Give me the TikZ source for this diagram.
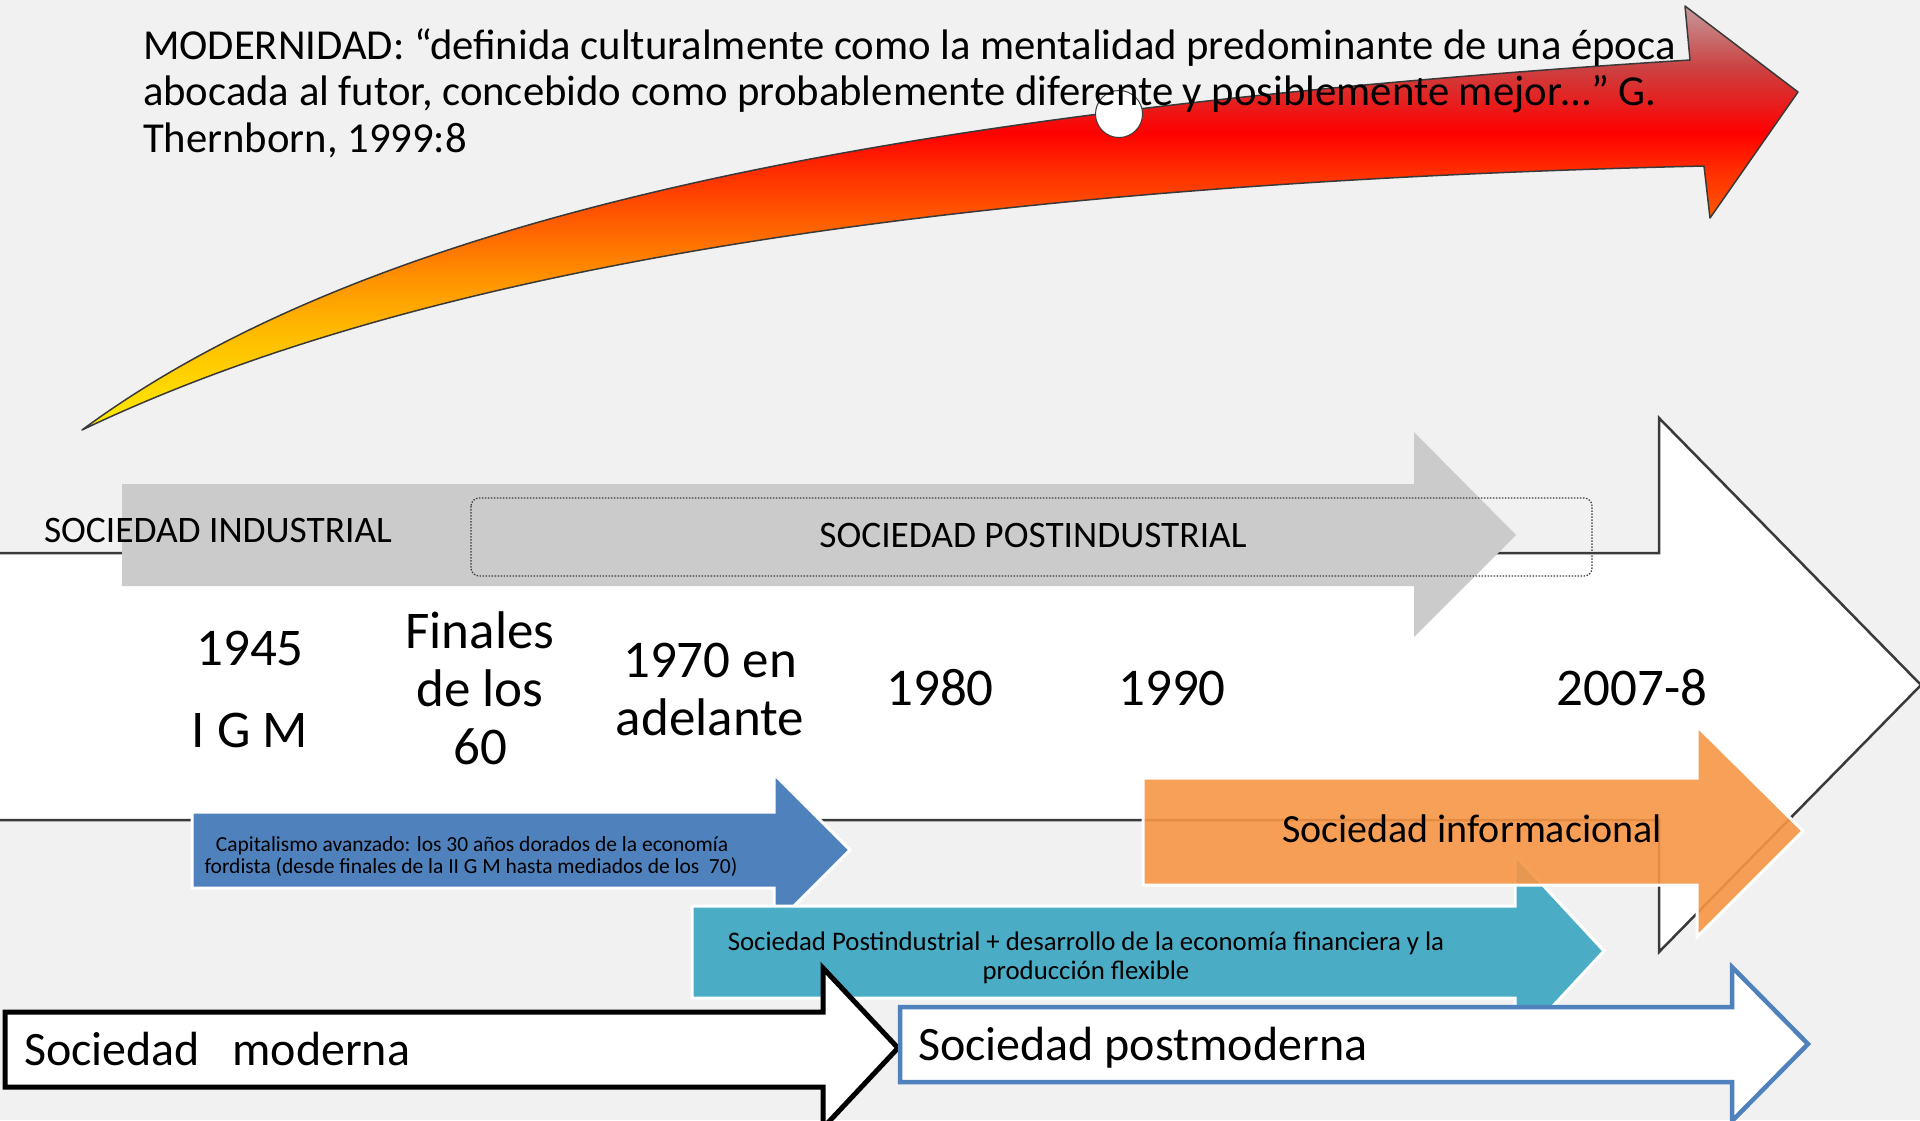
\documentclass[tikz,border=0pt]{standalone}
\usepackage{fontspec}
\setmainfont{Carlito}
\newcommand\myfs[1]{\fontsize{#1}{#1}\selectfont}
\definecolor{bg}{HTML}{F1F1F1}
\definecolor{greyA}{HTML}{CBCBCB}
\definecolor{blueA}{HTML}{4F81BD}
\definecolor{tealA}{HTML}{4BACC6}
\definecolor{orangeA}{HTML}{F79646}
\definecolor{lineA}{HTML}{3A3A3A}
\definecolor{cY}{HTML}{FFEE00}
\definecolor{cYb}{HTML}{FFBB00}
\definecolor{cO}{HTML}{FF9500}
\definecolor{cOb}{HTML}{FF6600}
\definecolor{cRb}{HTML}{FF2A00}
\definecolor{cR}{HTML}{FF0000}
\definecolor{cRc}{HTML}{CC4040}
\definecolor{cP}{HTML}{C49A9A}
\pgfdeclareverticalshading{redarrow}{100bp}{color(0bp)=(cY); color(25bp)=(cY); color(36.5bp)=(cYb); color(42.5bp)=(cO); color(48.5bp)=(cOb); color(56bp)=(cRb); color(60bp)=(cR); color(67.6bp)=(cRc); color(75bp)=(cP); color(100bp)=(cP)}
\begin{document}
\begin{tikzpicture}[x=1pt,y=-1pt,
  lbl/.style={inner sep=0pt, outer sep=0pt, text=black},
  quote/.style={lbl, anchor=base west, font=\myfs{42.7}},
  era/.style={lbl, font=\myfs{37.4}},
  year/.style={lbl, anchor=base, font=\myfs{53}},
  small/.style={lbl, anchor=base, font=\myfs{21.5}},
  mid/.style={lbl, anchor=base, font=\myfs{26.8}},
  big/.style={lbl, anchor=base west, font=\myfs{48}},
  colarrow/.style={draw=white, line width=3pt, line join=miter}]
\useasboundingbox (0,0) rectangle (1920,1120);
\fill[bg] (0,0) rectangle (1920,1120);

% curved modernity arrow
\path[shading=redarrow, draw=lineA, line width=1.5pt, line join=round]
  (82,430) .. controls (380,210) and (900,110) .. (1690,60)
  -- (1685,6) -- (1798,92) -- (1710,218) -- (1704,166)
  .. controls (900,185) and (400,278) .. (82,430) -- cycle;
\node[circle, fill=white, draw=lineA, line width=1pt, minimum size=47pt, inner sep=0pt] (handle) at (1119,114) {};

\node[quote] (q1) at (143,59) {MODERNIDAD: “definida culturalmente como la mentalidad predominante de una época};
\node[quote] (q2) at (143,105.5) {abocada al futor, concebido como probablemente diferente y posiblemente mejor…” G.};
\node[quote] (q3) at (143,152) {Thernborn, 1999:8};

% white timeline arrow
\path[fill=white, draw=lineA, line width=2.5pt, line join=miter]
  (-20,553) -- (1659,553) -- (1659,418) -- (1921,685) -- (1659,952) -- (1659,820) -- (-20,820) -- cycle;

% grey arrow
\fill[greyA] (122,484) -- (1414,484) -- (1414,432) -- (1516,535) -- (1414,637) -- (1414,586) -- (122,586) -- cycle;
\draw[dash pattern=on 1.5pt off 1.5pt, line width=1.2pt, draw=lineA, rounded corners=8pt] (471,498) rectangle (1592,576);

\node[era, anchor=base west] (ind) at (44,542) {SOCIEDAD INDUSTRIAL};
\node[era, anchor=base] (postind) at (1033,547) {SOCIEDAD POSTINDUSTRIAL};

% dates
\node[year] (y1945) at (250,665) {1945};
\node[year] (igm) at (250,747) {I G M};
\node[year] (fin1) at (480,648) {Finales};
\node[year] (fin2) at (480,706) {de los};
\node[year] (fin3) at (480,764) {60};
\node[year] (y70a) at (710,677) {1970 en};
\node[year] (y70b) at (710,735) {adelante};
\node[year] (y1980) at (940,705) {1980};
\node[year] (y1990) at (1172,705) {1990};
\node[year] (y2007) at (1632,705) {2007-8};

% blue capitalism arrow
\path[colarrow, fill=blueA] (192,812) -- (774,812) -- (774,774) -- (850,850) -- (774,926) -- (774,888) -- (192,888) -- cycle;
\node[small] (cap1) at (472,851) {Capitalismo avanzado: los 30 años dorados de la economía};
\node[small] (cap2) at (471,873) {fordista (desde finales de la II G M hasta mediados de los\ \ 70)};

% teal arrow
\path[colarrow, fill=tealA] (692,906) -- (1515,906) -- (1515,855) -- (1604,951) -- (1515,1047) -- (1515,998) -- (692,998) -- cycle;
\node[mid] (fin1l) at (1086,950) {Sociedad Postindustrial + desarrollo de la economía financiera y la};
\node[mid] (fin2l) at (1086,979) {producción flexible};

% orange arrow
\path[colarrow, fill=orangeA, fill opacity=0.9] (1143,778) -- (1697,778) -- (1697,726) -- (1803,831) -- (1697,937) -- (1697,885) -- (1143,885) -- cycle;
\node[lbl, anchor=base west, font=\myfs{40}] (inf) at (1282,842) {Sociedad informacional};

% black modern arrow
\path[fill=white, draw=black, line width=5pt, line join=miter] (5,1012) -- (823,1012) -- (823,968) -- (898,1048) -- (823,1128) -- (823,1087) -- (5,1087) -- cycle;
\node[big] (mod) at (24,1065) {Sociedad\ \ \ moderna};

% blue postmodern arrow
\path[fill=white, draw=blueA, line width=4.5pt, line join=miter] (900,1007) -- (1732,1007) -- (1732,967) -- (1808,1044) -- (1732,1121) -- (1732,1082) -- (900,1082) -- cycle;
\node[big] (pmod) at (918,1060) {Sociedad postmoderna};
\end{tikzpicture}
\end{document}
